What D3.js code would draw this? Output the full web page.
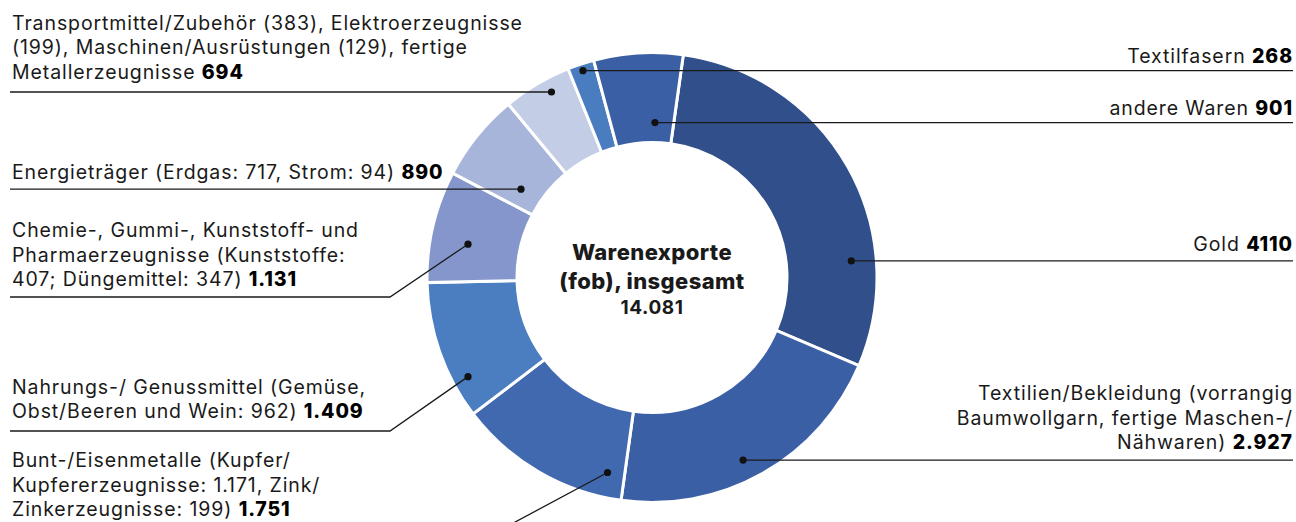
<!DOCTYPE html>
<html>
<head>
<meta charset="utf-8">
<script src="https://cdn.jsdelivr.net/npm/d3@7"></script>
<style>
 body { margin: 0; background: #fff; }
 text { font-family: Inter, "Open Sans", sans-serif; fill: #1a1a1a; }
</style>
</head>
<body>
<div id="chart"></div>
<script>
// Warenexporte (fob), Werte
var categories = ["Gold", "Textilien/Bekleidung", "Bunt-/Eisenmetalle", "Nahrungs-/Genussmittel",
  "Chemie/Kunststoff/Pharma", "Energieträger", "Transportmittel u.a.", "Textilfasern", "andere Waren"];
var values = [4110, 2927, 1751, 1409, 1131, 890, 694, 268, 901];
var valueText = ["4110", "2.927", "1.751", "1.409", "1.131", "890", "694", "268", "901"];
var labelLines = [
  ["Gold "],
  ["Textilien/Bekleidung (vorrangig", "Baumwollgarn, fertige Maschen-/", "Nähwaren) "],
  ["Bunt-/Eisenmetalle (Kupfer/", "Kupfererzeugnisse: 1.171, Zink/", "Zinkerzeugnisse: 199) "],
  ["Nahrungs-/ Genussmittel (Gemüse,", "Obst/Beeren und Wein: 962) "],
  ["Chemie-, Gummi-, Kunststoff- und", "Pharmaerzeugnisse (Kunststoffe:", "407; Düngemittel: 347) "],
  ["Energieträger (Erdgas: 717, Strom: 94) "],
  ["Transportmittel/Zubehör (383), Elektroerzeugnisse", "(199), Maschinen/Ausrüstungen (129), fertige", "Metallerzeugnisse "],
  ["Textilfasern "],
  ["andere Waren "]
];
var totalText = "14.081";
var colors = ["#31508b", "#3a5fa5", "#4169b0", "#4a7ec0", "#8496cb", "#a8b5db", "#c4cde6", "#4a7dc0", "#3a5fa4"];

var width = 1296, height = 522;
var cx = 652, cy = 277.5;

// where the leader lines sit (t = share of the slice angle, r = radius of the dot)
var leaders = [
  {side: "R", t: 0.735, r: 200, gap: 10},
  {side: "R", t: 0.54, r: 204, gap: 11},
  {side: "L", t: 0.11, r: 200, gap: 12, elbowY: 528, elbowX: 504},
  {side: "L", t: 0.25, r: 209, gap: 13, elbowY: 431, elbowX: 390},
  {side: "L", t: 0.40, r: 187, gap: 11, elbowY: 297, elbowX: 390},
  {side: "L", t: 0.28, r: 158, gap: 10},
  {side: "L", t: 0.63, r: 211, gap: 13},
  {side: "R", t: 0.5, r: 218, gap: 8},
  {side: "R", t: 0.70, r: 155, gap: 8}
];

var svg = d3.select("#chart").append("svg")
  .attr("width", width)
  .attr("height", height);

var start = 8 * Math.PI / 180;
var pie = d3.pie().sort(null).value(function(d){ return d; })
  .startAngle(start).endAngle(start + 2 * Math.PI);
var arc = d3.arc().innerRadius(135).outerRadius(225);
var slices = pie(values);

var g = svg.append("g").attr("transform", "translate(" + cx + "," + cy + ")");
g.selectAll("path").data(slices).enter().append("path")
  .attr("d", arc)
  .attr("fill", function(d, i){ return colors[i]; })
  .attr("stroke", "#fff")
  .attr("stroke-width", 3);

var lineH = 24.5;
slices.forEach(function(s, i){
  var L = leaders[i];
  var a = s.startAngle + L.t * (s.endAngle - s.startAngle);
  var p = d3.pointRadial(a, L.r);
  var dx = cx + p[0], dy = cy + p[1];
  var pts, lineY, tx, anchor;
  if (L.side == "R") {
    lineY = dy;
    pts = [[dx, dy], [1293, dy]];
    tx = 1293; anchor = "end";
  } else if (L.elbowY) {
    lineY = L.elbowY;
    pts = [[10, lineY], [L.elbowX, lineY], [dx, dy]];
    tx = 12; anchor = "start";
  } else {
    lineY = dy;
    pts = [[10, dy], [dx, dy]];
    tx = 12; anchor = "start";
  }
  svg.append("path")
    .attr("d", d3.line()(pts))
    .attr("fill", "none")
    .attr("stroke", "#1a1a1a")
    .attr("stroke-width", 1.3);
  svg.append("circle").attr("cx", dx).attr("cy", dy).attr("r", 3.6).attr("fill", "#111");

  var lines = labelLines[i];
  var lastBase = lineY - L.gap;
  lines.forEach(function(t, k){
    var txt = svg.append("text")
      .attr("x", tx)
      .attr("y", lastBase - (lines.length - 1 - k) * lineH)
      .attr("text-anchor", anchor)
      .attr("font-size", 19.5)
      .attr("letter-spacing", 0.9);
    txt.append("tspan").attr("xml:space", "preserve").style("white-space", "pre").text(t);
    if (k == lines.length - 1) {
      txt.append("tspan").attr("font-weight", 800).attr("fill", "#000").text(valueText[i]);
    }
  });
});

var center = svg.append("g").attr("text-anchor", "middle");
center.append("text").attr("x", cx).attr("y", 260).attr("font-size", 22).attr("font-weight", 800)
  .attr("letter-spacing", 0.4).attr("fill", "#000").text("Warenexporte");
center.append("text").attr("x", cx).attr("y", 289).attr("font-size", 22).attr("font-weight", 800)
  .attr("letter-spacing", 0.4).attr("fill", "#000").text("(fob), insgesamt");
center.append("text").attr("x", cx).attr("y", 314).attr("font-size", 19).attr("font-weight", 700)
  .attr("letter-spacing", 0.6).attr("fill", "#000").text(totalText);
</script>
</body>
</html>
